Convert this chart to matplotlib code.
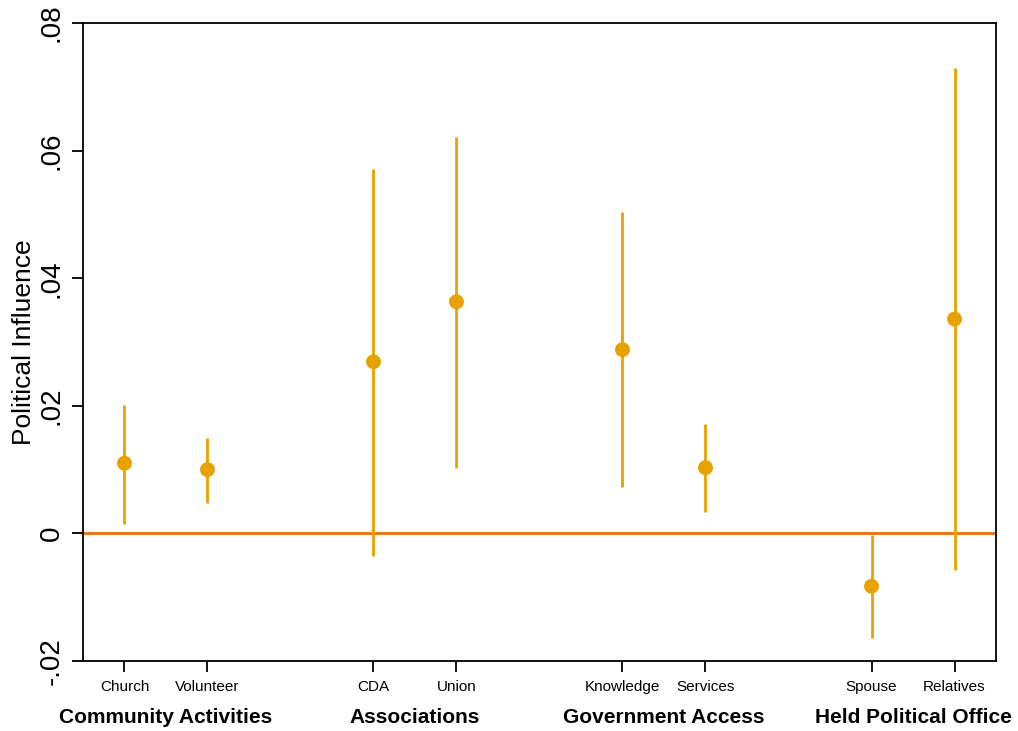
import matplotlib
matplotlib.use("Agg")
import matplotlib.pyplot as plt
from matplotlib.transforms import blended_transform_factory

plt.rcParams['font.family'] = ['Liberation Sans', 'DejaVu Sans']

categories = ["Church", "Volunteer", "CDA", "Union", "Knowledge", "Services", "Spouse", "Relatives"]
positions = [1, 2, 4, 5, 7, 8, 10, 11]
estimates = [0.0110, 0.0100, 0.0269, 0.0363, 0.0288, 0.0103, -0.0083, 0.0336]
ci_lower = [0.0014, 0.0047, -0.0036, 0.0103, 0.0072, 0.0033, -0.0164, -0.0058]
ci_upper = [0.0201, 0.0149, 0.0571, 0.0621, 0.0504, 0.0171, -0.0002, 0.0729]
groups = ["Community Activities", "Associations", "Government Access", "Held Political Office"]
group_centers = [1.5, 4.5, 7.5, 10.5]
yticks = [-0.02, 0, 0.02, 0.04, 0.06, 0.08]
ytick_labels = ["-.02", "0", ".02", ".04", ".06", ".08"]

fig = plt.figure(figsize=(10.18, 7.31), dpi=100)
ax = fig.add_axes([0.0815, 0.0958, 0.8969, 0.8727])

mcol = "#E8A200"
ax.axhline(0, color="#E8700C", lw=2, zorder=1)
ax.vlines(positions, ci_lower, ci_upper, color=mcol, lw=2.0, zorder=2)
ax.scatter(positions, estimates, s=115, color=mcol, zorder=3, edgecolors="none")

ax.set_xlim(0.5, 11.5)
ax.set_ylim(-0.02, 0.08)
ax.set_yticks(yticks)
ax.set_yticklabels(ytick_labels, rotation=90, va="center", fontsize=20)
ax.set_xticks(positions)
ax.set_xticklabels(categories, fontsize=11)
ax.tick_params(axis="both", direction="out", length=8, width=1.3, color="black")
ax.tick_params(axis="x", pad=6)
ax.tick_params(axis="y", pad=5)
for s in ax.spines.values():
    s.set_linewidth(1.3)
ax.set_ylabel("Political Influence", fontsize=19, labelpad=2)

tr = blended_transform_factory(ax.transData, ax.transAxes)
for g, c in zip(groups, group_centers):
    ax.text(c, -0.088, g, transform=tr, ha="center", va="center",
            fontsize=15, fontweight="bold")

fig.savefig("out.png", dpi=100)
